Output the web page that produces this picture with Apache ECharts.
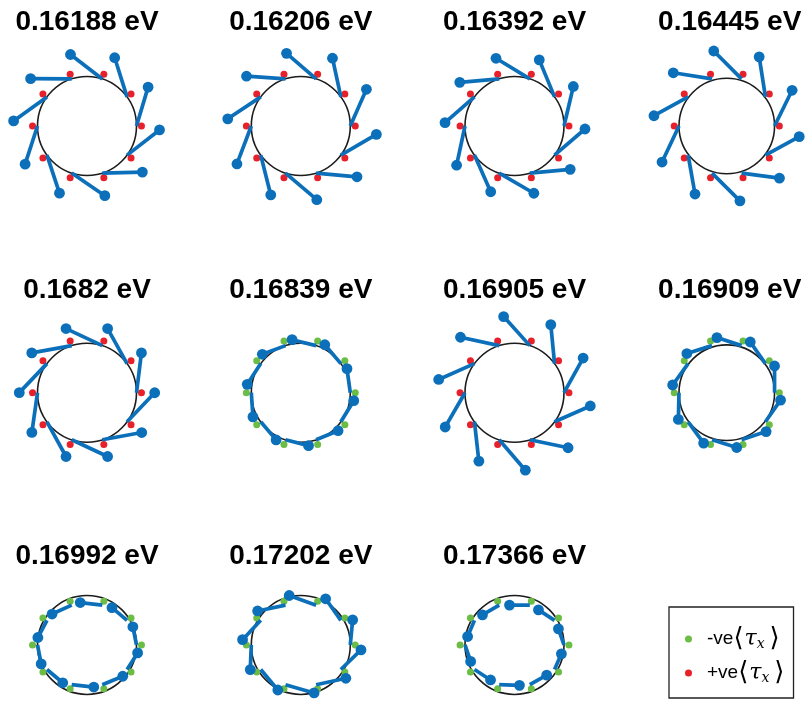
<!DOCTYPE html>
<html>
<head>
<meta charset="utf-8">
<script src="https://cdn.jsdelivr.net/npm/echarts@6/dist/echarts.min.js"></script>
<style>
  html, body { margin: 0; padding: 0; background: #ffffff; }
  #chart { width: 808px; height: 716px; }
</style>
</head>
<body>
<div id="chart"></div>
<script>
// Photon energy shown above each ring
const energyLabels = ['0.16188 eV', '0.16206 eV', '0.16392 eV', '0.16445 eV',
                      '0.1682 eV', '0.16839 eV', '0.16905 eV', '0.16909 eV',
                      '0.16992 eV', '0.17202 eV', '0.17366 eV'];
// Sign of <tau_x> on the ring sites for each energy (+1 / -1)
const tauSign = [1, 1, 1, 1, 1, -1, 1, -1, -1, -1, -1];
// Angular positions of the ten ring sites, degrees counter-clockwise from +x
const siteAngles = [0, 36, 72, 108, 144, 180, 216, 252, 288, 324];
// Ring radius and radius of the <tau_x> markers (ring units)
const ringRadius = 1;
const tauRadius = 1.1;

// Spin arrow on each site: angle from the outward radial (deg, ccw) and length (ring units)
const tilt01 = [73.4, 71.5, 70.5, 71.6, 71.7, 72.0, 72.2, 73.7, 73.4, 73.8];
const len01  = [0.82, 0.83, 0.81, 0.83, 0.83, 0.81, 0.81, 0.81, 0.81, 0.83];
const tilt02 = [66.3, 66.2, 67.1, 68.0, 69.6, 69.3, 68.1, 67.6, 66.8, 66.2];
const len02  = [0.81, 0.80, 0.79, 0.79, 0.80, 0.82, 0.83, 0.83, 0.83, 0.83];
const tilt03 = [76.7, 76.4, 76.6, 77.0, 77.2, 77.9, 77.9, 77.8, 77.3, 76.6];
const len03  = [0.82, 0.81, 0.80, 0.80, 0.79, 0.81, 0.81, 0.81, 0.82, 0.81];
const tilt04 = [63.0, 63.2, 63.9, 63.3, 64.0, 64.0, 64.4, 64.2, 64.6, 63.8];
const len04  = [0.81, 0.82, 0.81, 0.82, 0.81, 0.81, 0.80, 0.81, 0.80, 0.80];
const tilt05 = [82.9, 83.0, 82.8, 82.3, 82.4, 81.9, 82.8, 83.0, 82.4, 82.4];
const len05  = [0.81, 0.81, 0.81, 0.82, 0.81, 0.81, 0.80, 0.80, 0.81, 0.81];
const tilt06 = [97.9, 94.4, 94.1, 92.5, 92.9, 93.9, 94.3, 93.7, 94.4, 94.6];
const len06  = [0.49, 0.50, 0.50, 0.50, 0.50, 0.49, 0.48, 0.48, 0.48, 0.50];
const tilt07 = [61.1, 59.5, 60.0, 59.8, 59.9, 60.0, 60.4, 58.7, 60.2, 59.9];
const len07  = [0.80, 0.79, 0.79, 0.80, 0.79, 0.80, 0.80, 0.81, 0.79, 0.79];
const tilt08 = [90.0, 90.0, 90.5, 88.9, 89.1, 88.6, 91.0, 91.2, 89.8, 90.1];
const len08  = [0.54, 0.54, 0.54, 0.55, 0.54, 0.54, 0.54, 0.54, 0.54, 0.54];
const tilt09 = [99.6, 99.1, 100.0, 100.2, 101.9, 99.3, 99.1, 100.8, 98.0, 97.7];
const len09  = [0.44, 0.43, 0.45, 0.45, 0.45, 0.46, 0.45, 0.45, 0.46, 0.45];
const tilt10 = [85.5, 84.8, 85.0, 85.8, 87.5, 88.0, 89.1, 89.2, 86.3, 85.0];
const len10  = [0.60, 0.60, 0.59, 0.58, 0.59, 0.59, 0.60, 0.61, 0.62, 0.62];
const tilt11 = [106.3, 106.4, 107.7, 106.4, 106.3, 106.1, 106.4, 105.9, 105.7, 105.7];
const len11  = [0.40, 0.41, 0.41, 0.41, 0.41, 0.41, 0.41, 0.41, 0.41, 0.40];

const tilts = [tilt01, tilt02, tilt03, tilt04, tilt05, tilt06, tilt07, tilt08, tilt09, tilt10, tilt11];
const lengths = [len01, len02, len03, len04, len05, len06, len07, len08, len09, len10, len11];

// ---- layout & style ----
const colCenters = [87, 300.8, 514.5, 729.7];
const rowCenters = [126, 392.7, 658];
const titleY = [22, 290, 556];
const pxPerUnit = 49.5;
const axisHalf = 1.7;
const half = axisHalf * pxPerUnit;

const BLUE = '#0b6fba';
const RED = '#e8202a';
const GREEN = '#6cbd45';
const NEG_NAME = '-ve⟨τx⟩';
const POS_NAME = '+ve⟨τx⟩';

const rad = d => d * Math.PI / 180;

const grids = [], xAxes = [], yAxes = [], series = [], graphics = [];

energyLabels.forEach((label, i) => {
  const cx = colCenters[i % 4];
  const cy = rowCenters[Math.floor(i / 4)];
  grids.push({ left: cx - half, top: cy - half, width: 2 * half, height: 2 * half, containLabel: false });
  xAxes.push({ gridIndex: i, type: 'value', min: -axisHalf, max: axisHalf, show: false });
  yAxes.push({ gridIndex: i, type: 'value', min: -axisHalf, max: axisHalf, show: false });

  // ring
  series.push({
    type: 'custom', xAxisIndex: i, yAxisIndex: i, silent: true, z: 2,
    data: [[0, 0, ringRadius]],
    renderItem: (params, api) => {
      const c = api.coord([api.value(0), api.value(1)]);
      const r = api.size([api.value(2), 0])[0];
      return { type: 'circle', shape: { cx: c[0], cy: c[1], r: r },
               style: { fill: 'none', stroke: '#1c1c1c', lineWidth: 1.6 } };
    }
  });

  // <tau_x> sign markers
  const pos = tauSign[i] > 0;
  series.push({
    type: 'scatter', name: pos ? POS_NAME : NEG_NAME,
    xAxisIndex: i, yAxisIndex: i, silent: true, z: 3,
    symbol: 'circle', symbolSize: 7,
    itemStyle: { color: pos ? RED : GREEN, opacity: 1 },
    data: siteAngles.map(a => [tauRadius * Math.cos(rad(a)), tauRadius * Math.sin(rad(a))])
  });

  // spin arrows: from the site on the ring, ending in a dot
  const tilt = tilts[i], len = lengths[i];
  series.push({
    type: 'custom', xAxisIndex: i, yAxisIndex: i, silent: true, z: 4,
    encode: { x: [0, 2], y: [1, 3] },
    data: siteAngles.map((a, k) => {
      const x0 = ringRadius * Math.cos(rad(a));
      const y0 = ringRadius * Math.sin(rad(a));
      const d = rad(a + tilt[k]);
      return [x0, y0, x0 + len[k] * Math.cos(d), y0 + len[k] * Math.sin(d)];
    }),
    renderItem: (params, api) => {
      const p0 = api.coord([api.value(0), api.value(1)]);
      const p1 = api.coord([api.value(2), api.value(3)]);
      return {
        type: 'group',
        children: [
          { type: 'line', shape: { x1: p0[0], y1: p0[1], x2: p1[0], y2: p1[1] },
            style: { stroke: BLUE, lineWidth: 3.7, lineCap: 'butt' } },
          { type: 'circle', shape: { cx: p1[0], cy: p1[1], r: 5.4 },
            style: { fill: BLUE } }
        ]
      };
    }
  });

  graphics.push({
    type: 'text', x: cx, y: titleY[Math.floor(i / 4)], silent: true,
    style: { text: label, align: 'center', verticalAlign: 'middle',
             font: 'bold 28px "Liberation Sans", Arial, sans-serif', fill: '#000' }
  });
});

const chart = echarts.init(document.getElementById('chart'), null, { renderer: 'canvas' });
chart.setOption({
  backgroundColor: '#ffffff',
  animation: false,
  grid: grids,
  xAxis: xAxes,
  yAxis: yAxes,
  series: series,
  graphic: graphics,
  legend: {
    data: [NEG_NAME, POS_NAME],
    orient: 'vertical',
    left: 669, top: 607,
    padding: [19, 9, 12, 16],
    itemGap: 8,
    itemWidth: 7, itemHeight: 7,
    icon: 'circle',
    selectedMode: false,
    borderColor: '#222', borderWidth: 1.3,
    backgroundColor: '#fff',
    formatter: name => `{t|${name.slice(0, 3)}}{bl|⟨}{g|τ}{s|x}{br|⟩}`,
    textStyle: {
      color: '#000',
      rich: {
        t: { fontFamily: '"Liberation Sans", Arial, sans-serif', fontSize: 19, padding: [0, 0, 0, 10], lineHeight: 28 },
        bl: { fontFamily: '"DejaVu Sans", sans-serif', fontSize: 26, lineHeight: 28, padding: [0, 1, 0, 0] },
        br: { fontFamily: '"DejaVu Sans", sans-serif', fontSize: 26, lineHeight: 28, padding: [0, 0, 0, 3] },
        g: { fontFamily: '"DejaVu Serif", serif', fontStyle: 'italic', fontSize: 22, lineHeight: 28 },
        s: { fontFamily: '"DejaVu Serif", serif', fontStyle: 'italic', fontSize: 14, padding: [10, 2, 0, 0], lineHeight: 28 }
      }
    }
  }
});
</script>
</body>
</html>
